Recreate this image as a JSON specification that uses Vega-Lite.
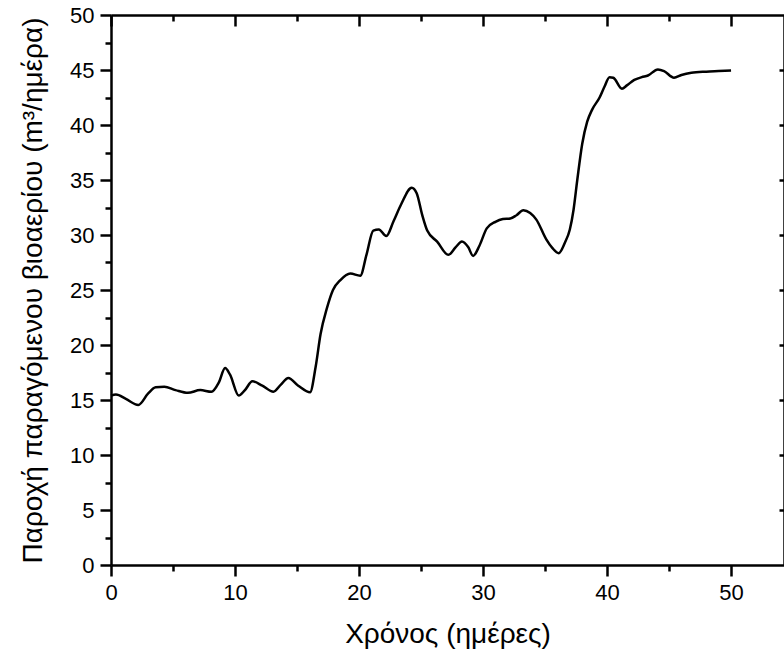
{
  "$schema": "https://vega.github.io/schema/vega-lite/v6.json",
  "autosize": "none",
  "width": 673,
  "height": 550,
  "padding": {"left": 111, "top": 15, "right": 0, "bottom": 86},
  "background": "white",
  "config": {"view": {"stroke": null}, "font": "Liberation Sans"},
  "data": {
    "values": [
      {"t": 0, "v": 15.4}, {"t": 0.4, "v": 15.5}, {"t": 1.2, "v": 15.1}, {"t": 2.2, "v": 14.55},
      {"t": 3.0, "v": 15.6}, {"t": 3.6, "v": 16.15}, {"t": 4.3, "v": 16.2}, {"t": 5.2, "v": 15.9},
      {"t": 6.2, "v": 15.65}, {"t": 7.2, "v": 15.9}, {"t": 8.1, "v": 15.75}, {"t": 8.7, "v": 16.6},
      {"t": 9.2, "v": 17.9}, {"t": 9.6, "v": 17.3}, {"t": 10.3, "v": 15.4}, {"t": 10.8, "v": 15.9},
      {"t": 11.4, "v": 16.7}, {"t": 12.2, "v": 16.3}, {"t": 13.1, "v": 15.75}, {"t": 13.7, "v": 16.4},
      {"t": 14.3, "v": 17.0}, {"t": 15.1, "v": 16.3}, {"t": 16.05, "v": 15.7}, {"t": 16.5, "v": 18.0},
      {"t": 16.9, "v": 21.0}, {"t": 17.4, "v": 23.3}, {"t": 17.9, "v": 25.0}, {"t": 18.5, "v": 25.9},
      {"t": 19.3, "v": 26.5}, {"t": 20.1, "v": 26.3}, {"t": 20.6, "v": 28.2}, {"t": 21.15, "v": 30.4},
      {"t": 21.6, "v": 30.5}, {"t": 22.2, "v": 29.9}, {"t": 22.8, "v": 31.3}, {"t": 23.4, "v": 32.8},
      {"t": 24.25, "v": 34.3}, {"t": 24.65, "v": 33.8}, {"t": 25.1, "v": 31.8}, {"t": 25.5, "v": 30.4},
      {"t": 26.3, "v": 29.4}, {"t": 27.2, "v": 28.2}, {"t": 27.8, "v": 28.9}, {"t": 28.3, "v": 29.4},
      {"t": 28.8, "v": 28.9}, {"t": 29.2, "v": 28.1}, {"t": 29.7, "v": 29.0}, {"t": 30.3, "v": 30.6},
      {"t": 31.0, "v": 31.2}, {"t": 31.6, "v": 31.45}, {"t": 32.2, "v": 31.5}, {"t": 32.7, "v": 31.8},
      {"t": 33.25, "v": 32.25}, {"t": 33.8, "v": 32.0}, {"t": 34.3, "v": 31.4}, {"t": 35.1, "v": 29.6},
      {"t": 35.6, "v": 28.8}, {"t": 36.1, "v": 28.35}, {"t": 36.6, "v": 29.3}, {"t": 37.0, "v": 30.5},
      {"t": 37.3, "v": 32.3}, {"t": 37.6, "v": 35.0}, {"t": 38.0, "v": 38.3}, {"t": 38.4, "v": 40.3},
      {"t": 38.8, "v": 41.4}, {"t": 39.4, "v": 42.5}, {"t": 39.8, "v": 43.5}, {"t": 40.2, "v": 44.35},
      {"t": 40.5, "v": 44.3}, {"t": 41.2, "v": 43.3}, {"t": 41.6, "v": 43.6}, {"t": 42.2, "v": 44.1},
      {"t": 42.8, "v": 44.35}, {"t": 43.3, "v": 44.5}, {"t": 44.1, "v": 45.05}, {"t": 44.6, "v": 44.9},
      {"t": 45.4, "v": 44.3}, {"t": 46.0, "v": 44.55}, {"t": 46.8, "v": 44.75}, {"t": 48.0, "v": 44.85},
      {"t": 49.0, "v": 44.9}, {"t": 50.0, "v": 44.95}
    ]
  },
  "resolve": {"axis": {"x": "independent", "y": "independent"}},
  "layer": [
    {
      "mark": {"type": "line", "color": "black", "strokeWidth": 2.5, "interpolate": "monotone"},
      "encoding": {
        "x": {"field": "t", "type": "quantitative", "scale": {"domain": [0, 54.27], "nice": false, "zero": false},
          "axis": {"orient": "bottom", "values": [0, 5, 10, 15, 20, 25, 30, 35, 40, 45, 50], "grid": false,
            "labelExpr": "datum.value % 10 === 0 ? datum.label : ''", "labelFlush": false,
            "labelFontSize": 22, "labelColor": "black", "labelPadding": 6,
            "domainWidth": 2.5, "domainColor": "black",
            "tickWidth": 2.5, "tickColor": "black",
            "tickSize": {"condition": {"test": "datum.value % 10 === 0", "value": 11}, "value": 6},
            "title": "Χρόνος (ημέρες)", "titleFontSize": 28, "titleFontWeight": "normal", "titleColor": "black",
            "titlePadding": 17}},
        "y": {"field": "v", "type": "quantitative", "scale": {"domain": [0, 50], "nice": false},
          "axis": {"orient": "left", "values": [0, 2.5, 5, 7.5, 10, 12.5, 15, 17.5, 20, 22.5, 25, 27.5, 30, 32.5, 35, 37.5, 40, 42.5, 45, 47.5, 50], "grid": false,
            "labelExpr": "datum.value % 5 === 0 ? datum.label : ''",
            "labelFontSize": 22, "labelColor": "black", "labelPadding": 6,
            "domainWidth": 2.5, "domainColor": "black",
            "tickWidth": 2.5, "tickColor": "black",
            "tickSize": {"condition": {"test": "datum.value % 5 === 0", "value": 11}, "value": 6},
            "title": "Παροχή παραγόμενου βιοαερίου (m³/ημέρα)", "titleFontSize": 28, "titleFontWeight": "normal", "titleColor": "black",
            "titlePadding": 22}}
      }
    },
    {
      "mark": {"type": "line", "strokeOpacity": 0},
      "encoding": {
        "x": {"field": "t", "type": "quantitative", "scale": {"domain": [0, 54.27], "nice": false, "zero": false},
          "axis": {"orient": "top", "values": [0, 5, 10, 15, 20, 25, 30, 35, 40, 45, 50], "labels": false, "grid": false,
            "domainWidth": 2.5, "domainColor": "black",
            "tickWidth": 2.5, "tickColor": "black",
            "tickSize": {"condition": {"test": "datum.value % 10 === 0", "value": -11}, "value": -6},
            "title": null}},
        "y": {"field": "v", "type": "quantitative", "scale": {"domain": [0, 50], "nice": false},
          "axis": {"orient": "right", "values": [5, 10, 15, 20, 25, 30, 35, 40, 45], "labels": false, "grid": false,
            "domainWidth": 2.5, "domainColor": "black",
            "tickWidth": 2.5, "tickColor": "black", "tickSize": -5,
            "title": null}}
      }
    }
  ]
}
